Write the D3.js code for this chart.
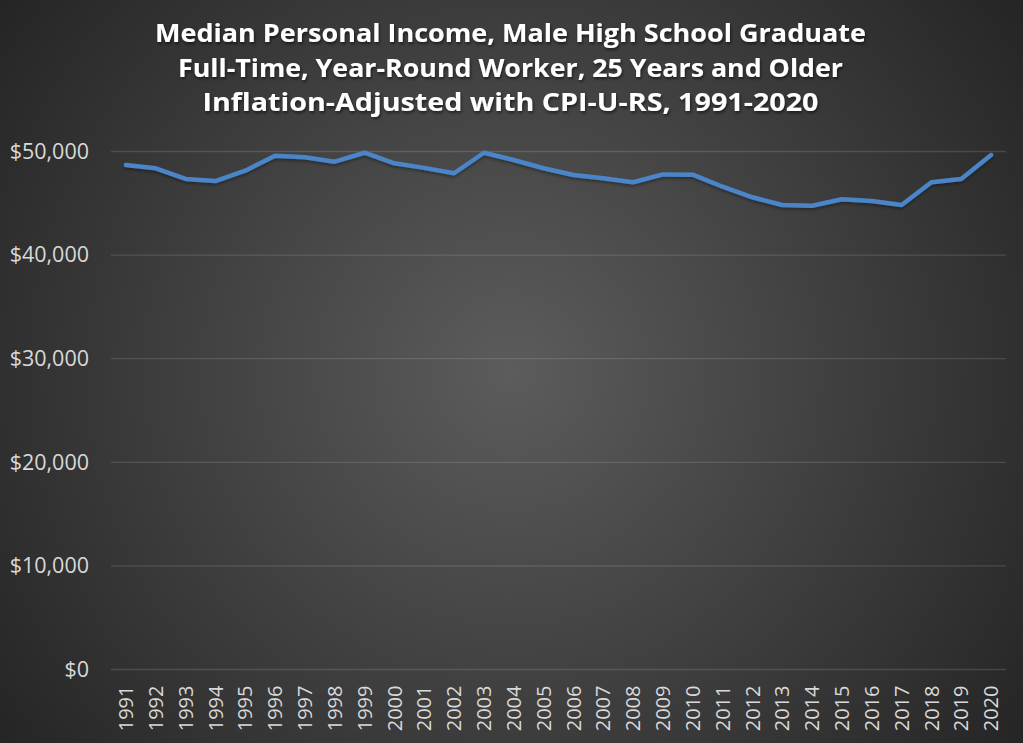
<!DOCTYPE html>
<html>
<head>
<meta charset="utf-8">
<script src="https://cdn.jsdelivr.net/npm/d3@7"></script>
<style>
  html, body { margin: 0; padding: 0; background: #262626; }
  svg { display: block; }
</style>
</head>
<body>
<svg id="chart" width="1023" height="743"></svg>
<script>
const titleLines = [
  "Median Personal Income, Male High School Graduate",
  "Full-Time, Year-Round Worker, 25 Years and Older",
  "Inflation-Adjusted with CPI-U-RS, 1991-2020"
];
const years = ["1991","1992","1993","1994","1995","1996","1997","1998","1999","2000",
  "2001","2002","2003","2004","2005","2006","2007","2008","2009","2010",
  "2011","2012","2013","2014","2015","2016","2017","2018","2019","2020"];
const income = [48700, 48380, 47350, 47150, 48150, 49600, 49440, 49020, 49880, 48860,
  48420, 47900, 49880, 49180, 48380, 47730, 47410, 47030, 47790, 47760,
  46600, 45580, 44840, 44770, 45390, 45220, 44840, 47030, 47350, 49660];
const yTicks = [0, 10000, 20000, 30000, 40000, 50000];

const W = 1023, H = 743;
const svg = d3.select("#chart");
const defs = svg.append("defs");
const grad = defs.append("radialGradient").attr("id", "bg")
  .attr("gradientUnits", "userSpaceOnUse")
  .attr("cx", 511).attr("cy", 372).attr("r", 630);
grad.append("stop").attr("offset", 0).attr("stop-color", "#5c5c5c");
grad.append("stop").attr("offset", 1).attr("stop-color", "#252525");
const sh = defs.append("filter").attr("id", "tshadow").attr("x", "-10%").attr("y", "-30%").attr("width", "120%").attr("height", "160%");
sh.append("feDropShadow").attr("dx", 1).attr("dy", 2).attr("stdDeviation", 1.5).attr("flood-color", "#000").attr("flood-opacity", 0.55);
const lsh = defs.append("filter").attr("id", "lshadow").attr("x", "-5%").attr("y", "-50%").attr("width", "110%").attr("height", "200%");
lsh.append("feDropShadow").attr("dx", 0).attr("dy", 2).attr("stdDeviation", 1.5).attr("flood-color", "#000").attr("flood-opacity", 0.35);

svg.append("rect").attr("width", W).attr("height", H).attr("fill", "url(#bg)");

const x = d3.scaleBand().domain(years).range([111, 1006]).padding(0);
const y = d3.scaleLinear().domain([0, 50000]).range([669.5, 151.5]);

// gridlines
svg.append("g").selectAll("line").data(yTicks).join("line")
  .attr("x1", 111).attr("x2", 1006)
  .attr("y1", d => y(d)).attr("y2", d => y(d))
  .attr("stroke", "#d9d9d9").attr("stroke-opacity", 0.16).attr("stroke-width", 1.3);

// y axis
const yAxis = d3.axisLeft(y).tickValues(yTicks).tickSize(0).tickPadding(0)
  .tickFormat(d => "$" + d3.format(",")(d));
const gy = svg.append("g").attr("transform", "translate(89,0)").call(yAxis);
gy.select(".domain").remove();
gy.selectAll("text").attr("fill", "#d9d9d9").attr("font-family", "'Open Sans', sans-serif")
  .attr("font-size", 21.5).attr("text-anchor", "end");

// x axis
const xAxis = d3.axisBottom(x).tickSize(0).tickPadding(0);
const gx = svg.append("g").attr("transform", "translate(0,669.5)").call(xAxis);
gx.select(".domain").remove();
gx.selectAll("text")
  .attr("fill", "#d9d9d9").attr("font-family", "'Open Sans', sans-serif")
  .attr("font-size", 20)
  .attr("text-anchor", "end")
  .attr("transform", "rotate(-90)")
  .attr("x", -16).attr("y", 0).attr("dy", "0.36em");

// line
const line = d3.line().x((d, i) => x(years[i]) + x.bandwidth() / 2).y(d => y(d));
svg.append("path").datum(income)
  .attr("d", line)
  .attr("fill", "none")
  .attr("stroke", "#4a85c8")
  .attr("stroke-width", 4.5)
  .attr("stroke-linejoin", "round")
  .attr("stroke-linecap", "round")
  .attr("filter", "url(#lshadow)");

// title
const titleW = [711, 665, 616];
const title = svg.append("g").attr("filter", "url(#tshadow)");
title.selectAll("text").data(titleLines).join("text")
  .attr("x", 510.5)
  .attr("y", (d, i) => 42 + i * 34.5)
  .attr("text-anchor", "middle")
  .attr("fill", "#ffffff")
  .attr("font-family", "'Open Sans', sans-serif")
  .attr("font-weight", "bold")
  .attr("font-size", 25)
  .attr("textLength", (d, i) => titleW[i])
  .attr("lengthAdjust", "spacingAndGlyphs")
  .text(d => d);
</script>
</body>
</html>
